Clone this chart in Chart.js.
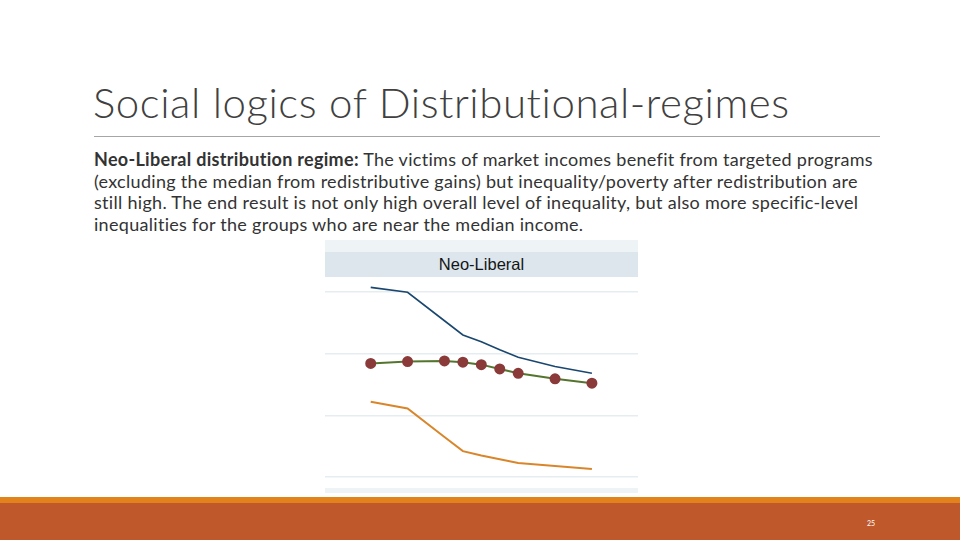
<!DOCTYPE html>
<html>
<head>
<meta charset="utf-8">
<script src="https://cdn.jsdelivr.net/npm/chart.js@4"></script>
<style>
  html, body { margin: 0; padding: 0; }
  body { width: 960px; height: 540px; position: relative; overflow: hidden; background: #fff; font-family: Lato, "Open Sans", sans-serif; }
  #title { position: absolute; left: 93px; top: 77px; font-size: 42px; letter-spacing: 0.55px; font-weight: 300; color: #404040; white-space: nowrap; }
  #rule { position: absolute; left: 94px; top: 136px; width: 786px; height: 1px; background: #a6a6a6; }
  #body { position: absolute; left: 94px; top: 149px; font-size: 18px; letter-spacing: 0.3px; line-height: 21.7px; color: #333; white-space: nowrap; }
  #body b { font-weight: 700; }
  #panel { position: absolute; left: 325px; top: 240px; width: 313px; height: 253px; background: #eef3f5; }
  #head { position: absolute; left: 0; top: 12px; width: 313px; height: 25px; background: #dce6ec; text-align: center; font-family: "Liberation Sans", Arial, sans-serif; font-size: 16.5px; line-height: 25px; color: #151515; }
  #plot { position: absolute; left: 0; top: 37px; width: 313px; height: 211px; background: #fff; }
  #bar1 { position: absolute; left: 0; top: 497px; width: 960px; height: 6px; background: #e2821a; }
  #bar2 { position: absolute; left: 0; top: 503px; width: 960px; height: 37px; background: #bf592b; }
  #page { position: absolute; left: 867px; top: 519px; font-size: 7px; color: #fff; }
</style>
</head>
<body>
<div id="title">Social logics of Distributional-regimes</div>
<div id="rule"></div>
<div id="body"><b>Neo-Liberal distribution regime:</b> The victims of market incomes benefit from targeted programs<br>(excluding the median from redistributive gains) but inequality/poverty after redistribution are<br>still high. The end result is not only high overall level of inequality, but also more specific-level<br>inequalities for the groups who are near the median income.</div>
<div id="panel">
  <div id="head">Neo-Liberal</div>
  <div id="plot"><canvas id="chart" width="313" height="211"></canvas></div>
</div>
<div id="bar1"></div>
<div id="bar2"></div>
<div id="page">25</div>
<script>
// x positions (poverty line, % of median) and the three series
const xValues = [10, 20, 30, 35, 40, 45, 50, 60, 70];
const navySeries = [0.407, 0.399, 0.353, 0.330, 0.319, 0.306, 0.294, 0.279, 0.268];
const greenSeries = [0.284, 0.287, 0.288, 0.286, 0.282, 0.275, 0.268, 0.259, 0.252];
const orangeSeries = [0.222, 0.211, 0.165, 0.142, 0.135, 0.129, 0.123, 0.118, 0.113];
const yTicks = [0.1, 0.2, 0.3, 0.4];

function pts(arr) {
  return arr.map((v, i) => ({ x: xValues[i], y: v }));
}

new Chart(document.getElementById('chart'), {
  type: 'line',
  data: {
    datasets: [
      {
        data: pts(navySeries),
        borderColor: '#1a476f',
        borderWidth: 1.6,
        pointRadius: 0,
        tension: 0
      },
      {
        data: pts(greenSeries),
        borderColor: '#55752f',
        borderWidth: 2,
        pointRadius: 4.5,
        pointBackgroundColor: '#8b3a3a',
        pointBorderColor: '#8b3a3a',
        tension: 0
      },
      {
        data: pts(orangeSeries),
        borderColor: '#d9862b',
        borderWidth: 2,
        pointRadius: 0,
        tension: 0
      }
    ]
  },
  options: {
    responsive: false,
    animation: false,
    layout: { padding: 0, autoPadding: false },
    plugins: { legend: { display: false }, tooltip: { enabled: false } },
    scales: {
      x: { type: 'linear', display: false, min: -2.4, max: 82.5 },
      y: {
        min: 0.0824,
        max: 0.4238,
        afterBuildTicks: axis => { axis.ticks = yTicks.map(v => ({ value: v })); },
        ticks: { display: false },
        border: { display: false },
        grid: { color: '#e6edf1', lineWidth: 1.5, drawTicks: false }
      }
    }
  }
});
</script>
</body>
</html>
